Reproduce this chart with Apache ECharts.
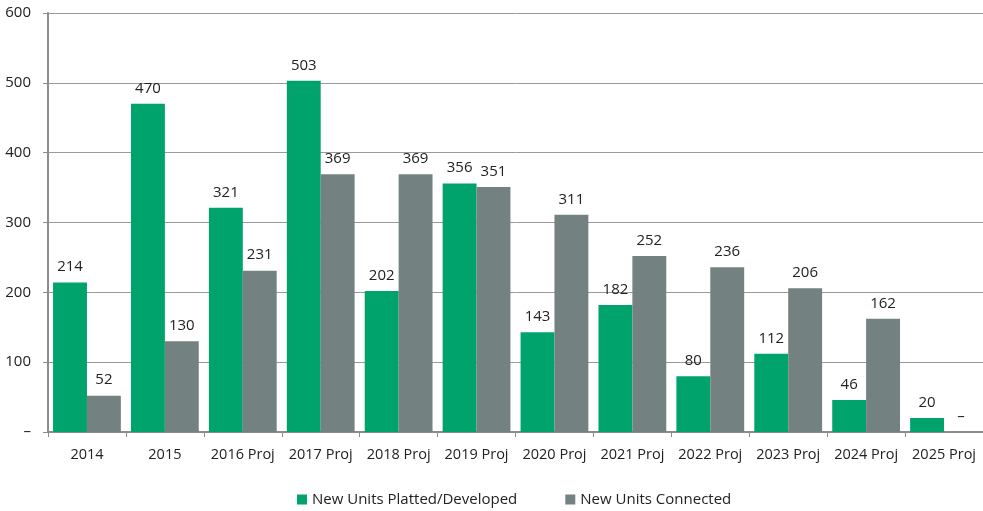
<!DOCTYPE html>
<html>
<head>
<meta charset="utf-8">
<script src="https://cdn.jsdelivr.net/npm/echarts@6/dist/echarts.min.js"></script>
<style>
  html, body { margin: 0; padding: 0; background: #fff; }
  #chart { width: 983px; height: 511px; }
</style>
</head>
<body>
<div id="chart"></div>
<script>
var categories = ['2014', '2015', '2016 Proj', '2017 Proj', '2018 Proj', '2019 Proj', '2020 Proj', '2021 Proj', '2022 Proj', '2023 Proj', '2024 Proj', '2025 Proj'];
var platted = [214, 470, 321, 503, 202, 356, 143, 182, 80, 112, 46, 20];
var connected = [52, 130, 231, 369, 369, 351, 311, 252, 236, 206, 162, 0];

var fontFam = '"Open Sans", "Noto Sans", sans-serif';

function zeroDash(p) {
  return p.value === 0 ? '–' : p.value;
}

var myChart = echarts.init(document.getElementById('chart'));
var option = {
  animation: false,
  color: ['#00A36C', '#738280'],
  textStyle: { fontFamily: fontFam },
  grid: {
    left: 48,
    right: 0,
    top: 13,
    bottom: 79
  },
  legend: {
    bottom: -1,
    left: 292,
    itemWidth: 10,
    itemHeight: 10,
    itemGap: 48,
    icon: 'rect',
    textStyle: { color: '#222', fontSize: 15, fontFamily: fontFam },
    data: ['New Units Platted/Developed', 'New Units Connected']
  },
  xAxis: {
    type: 'category',
    data: categories,
    axisLine: { lineStyle: { color: '#8c8c8c', width: 2 } },
    axisTick: { show: true, length: 5, lineStyle: { color: '#8c8c8c' } },
    axisLabel: { interval: 0, color: '#222', fontSize: 14.5, margin: 15, fontFamily: fontFam }
  },
  yAxis: {
    type: 'value',
    min: 0,
    max: 600,
    interval: 100,
    axisLine: { show: true, lineStyle: { color: '#8c8c8c', width: 2 } },
    axisTick: { show: true, length: 5, lineStyle: { color: '#8c8c8c' } },
    axisLabel: {
      color: '#222',
      fontSize: 15,
      margin: 17,
      fontFamily: fontFam,
      formatter: function (v) { return v === 0 ? '–' : v; }
    },
    splitLine: { lineStyle: { color: '#9a9a9a', width: 1 } }
  },
  series: [
    {
      name: 'New Units Platted/Developed',
      type: 'bar',
      data: platted,
      barGap: '0%',
      barCategoryGap: '13%',
      label: { show: true, position: 'top', distance: 8, color: '#222', fontSize: 15, fontFamily: fontFam, formatter: zeroDash }
    },
    {
      name: 'New Units Connected',
      type: 'bar',
      data: connected,
      label: { show: true, position: 'top', distance: 8, color: '#222', fontSize: 15, fontFamily: fontFam, formatter: zeroDash }
    }
  ]
};
myChart.setOption(option);
window.addEventListener('resize', function () {
  myChart.resize();
});
</script>
</body>
</html>
